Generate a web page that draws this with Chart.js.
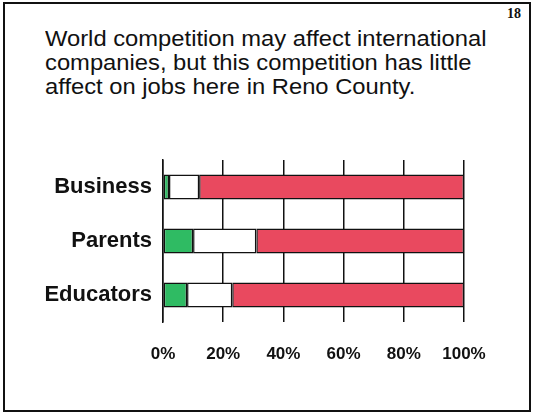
<!DOCTYPE html>
<html lang="en">
<head>
    <meta charset="UTF-8">
    <title>World competition - Reno County</title>
    <script src="https://cdn.jsdelivr.net/npm/chart.js"></script>
    <style>
        html, body {
            margin: 0;
            padding: 0;
            background: #fff;
        }
        .slide {
            position: relative;
            width: 533px;
            height: 413px;
            overflow: hidden;
        }
        .frame {
            position: absolute;
            left: 3px;
            top: 2px;
            width: 524px;
            height: 406px;
            border: 2px solid #111;
        }
        .page-no {
            position: absolute;
            right: 12px;
            top: 6px;
            font-family: "Liberation Serif", serif;
            font-weight: bold;
            font-size: 14px;
            color: #111;
        }
        .question {
            position: absolute;
            left: 45px;
            top: 27px;
            font-family: "Liberation Sans", Arial, sans-serif;
            font-size: 22px;
            line-height: 24px;
            color: #111;
            transform: scaleX(1.08);
            transform-origin: left top;
            white-space: nowrap;
        }
        canvas {
            position: absolute;
            left: 0;
            top: 0;
        }
    </style>
</head>
<body>
<div class="slide">
    <div class="frame"></div>
    <div class="page-no">18</div>
    <div class="question">World competition may affect international<br>companies, but this competition has little<br>affect on jobs here in Reno County.</div>
    <canvas id="chart" width="533" height="413"></canvas>
</div>

<script>
    // survey groups and answer shares (percent)
    const groups = ["Business", "Parents", "Educators"];
    const agree = [2, 10, 8];
    const neutral = [10, 21, 15];
    const disagree = [88, 69, 77];
    const ticks = [0, 20, 40, 60, 80, 100];

    const ctx = document.getElementById("chart").getContext("2d");

    new Chart(ctx, {
        type: "bar",
        data: {
            labels: groups,
            datasets: [
                { label: "Agree", data: agree, backgroundColor: "#2fbb63" },
                { label: "Neutral", data: neutral, backgroundColor: "#ffffff" },
                { label: "Disagree", data: disagree, backgroundColor: "#e9495f" }
            ].map(ds => Object.assign(ds, {
                borderColor: "#111",
                borderWidth: 1.5,
                borderSkipped: false,
                barPercentage: 0.46,
                categoryPercentage: 1
            }))
        },
        options: {
            indexAxis: "y",
            responsive: false,
            animation: false,
            layout: { padding: { left: 0, right: 69, top: 160, bottom: 30 } },
            plugins: {
                legend: { display: false },
                tooltip: { enabled: false }
            },
            scales: {
                x: {
                    stacked: true,
                    min: 0,
                    max: 100,
                    afterBuildTicks: axis => {
                        axis.ticks = ticks.map(v => ({ value: v }));
                    },
                    afterFit: axis => { axis.height = 61; },
                    grid: {
                        color: "#111",
                        lineWidth: 1.5,
                        drawTicks: false
                    },
                    border: { display: false },
                    ticks: {
                        padding: 22,
                        color: "#111",
                        font: { family: "Liberation Sans", weight: "bold", size: 17 },
                        callback: v => v + "%"
                    }
                },
                y: {
                    stacked: true,
                    afterFit: axis => { axis.width = 163; },
                    grid: { display: false, drawTicks: false },
                    border: { display: true, color: "#111", width: 1.5 },
                    ticks: {
                        padding: 11,
                        color: "#111",
                        font: { family: "Liberation Sans", weight: "bold", size: 22 }
                    }
                }
            }
        }
    });
</script>
</body>
</html>
